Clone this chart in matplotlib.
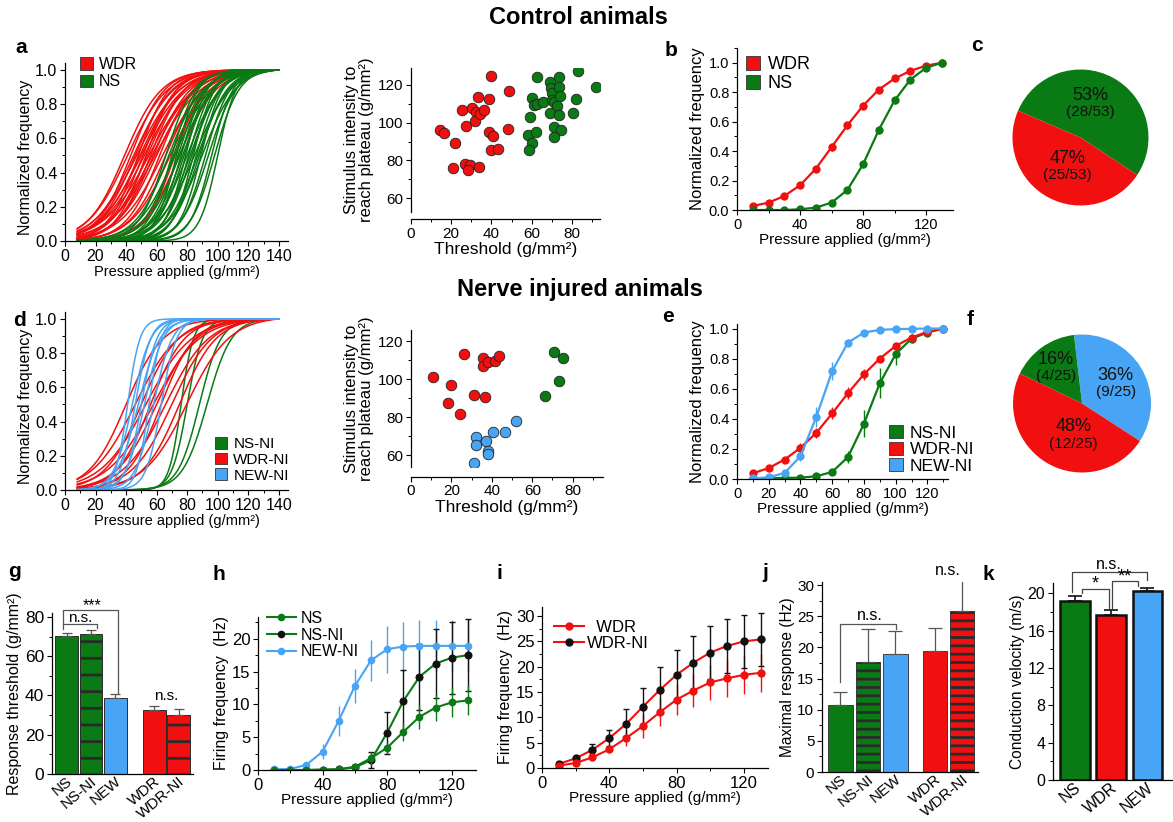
import numpy as np
import matplotlib
matplotlib.use("Agg")
import matplotlib.pyplot as plt
from matplotlib.patches import Patch
from matplotlib.lines import Line2D
from matplotlib.ticker import MultipleLocator
from matplotlib.transforms import ScaledTranslation

plt.rcParams['font.family'] = ['Liberation Sans', 'DejaVu Sans']
plt.rcParams['hatch.linewidth'] = 2.0
plt.rcParams['axes.linewidth'] = 0.9

GREEN = '#0a7a14'
RED = '#f20f0f'
BLUE = '#48a4f4'
TXT = '#111111'

# ---------------- data ----------------
# Boltzmann fits of individual neurons (half-activation pressure, slope)
ctrl_wdr_x50 = [39, 41, 43, 45, 46, 47, 48, 49, 50, 51, 52, 53, 54, 55, 56, 57, 58, 59, 60, 62, 64, 66, 69, 72, 75]
ctrl_wdr_k = [12, 13, 11, 13, 12, 14, 10, 13, 14, 11, 14, 10, 12, 15, 11, 14, 12, 15, 13, 11, 14, 12, 13, 10, 12]
ctrl_ns_x50 = [66, 68, 70, 71, 72, 73, 74, 75, 76, 77, 78, 79, 80, 81, 82, 83, 84, 85, 86, 87, 88, 89, 90, 92, 94, 96, 98, 100]
ctrl_ns_k = [9, 11, 8, 10, 12, 7, 9, 11, 8, 10, 9, 7, 11, 8, 10, 9, 7, 12, 8, 10, 9, 7, 11, 8, 9, 7, 8, 6]

ni_ns_x50 = [76, 80, 88, 93]
ni_ns_k = [4, 5, 7, 8]
ni_wdr_x50 = [40, 46, 50, 53, 56, 58, 60, 63, 66, 70, 75, 80]
ni_wdr_k = [12, 14, 12, 15, 11, 15, 13, 11, 14, 13, 12, 14]
ni_new_x50 = [41, 44, 46, 48, 50, 52, 55, 58, 63]
ni_new_k = [4, 6, 5, 7, 5, 6, 4, 6, 5]

# threshold vs. plateau, control
ctrl_wdr_thr = [14.4, 16.6, 21.9, 21.1, 25.2, 27.4, 26.9, 29.4, 28.2, 30.5, 32.2, 31.9, 33.5, 34.3, 33.7,
                36.3, 38.7, 38.8, 40.0, 40.7, 39.8, 43.5, 48.5, 48.3]
ctrl_wdr_plat = [96.2, 94.4, 89.1, 75.9, 106.8, 98.3, 78.2, 77.6, 74.7, 107.6, 105.9, 101.1, 113.5, 104.5, 76.8,
                 106.8, 112.4, 94.9, 124.9, 93.0, 85.6, 86.1, 117.0, 96.5]
ctrl_ns_thr = [62.6, 60.4, 61.2, 62.9, 65.6, 59.3, 58.4, 62.2, 60.1, 58.8, 69.2, 69.5, 70.0, 70.3, 71.2, 73.4,
               73.7, 74.2, 72.5, 69.2, 73.4, 71.1, 74.7, 71.1, 83.0, 81.9, 80.8, 92.1]
ctrl_ns_plat = [124.4, 112.9, 109.4, 109.9, 111.2, 102.9, 93.5, 94.9, 89.1, 85.6, 121.8, 118.2, 115.6, 112.1,
                111.2, 124.1, 119.1, 114.2, 108.9, 105.0, 104.1, 97.6, 96.2, 92.3, 127.4, 112.6, 105.0, 119.1]

# threshold vs. plateau, nerve injured
ni_wdr_thr = [10.8, 19.8, 18.1, 24.4, 26.1, 31.0, 35.5, 35.5, 38.2, 36.8, 41.8, 43.5]
ni_wdr_plat = [101.1, 97.1, 87.4, 81.7, 113.5, 91.8, 111.2, 107.1, 109.1, 90.9, 109.4, 112.1]
ni_ns_thr = [66.4, 70.9, 75.0, 73.4]
ni_ns_plat = [91.4, 114.2, 111.2, 99.2]
ni_new_thr = [31.0, 32.2, 32.2, 37.3, 38.2, 38.0, 40.5, 46.3, 51.8]
ni_new_plat = [55.9, 69.7, 65.3, 67.4, 62.3, 60.9, 72.4, 72.4, 78.0]

pressure = [10, 20, 30, 40, 50, 60, 70, 80, 90, 100, 110, 120, 130]

# b: population normalized frequency, control
b_wdr = [0.027, 0.05, 0.095, 0.168, 0.28, 0.427, 0.575, 0.709, 0.818, 0.893, 0.945, 0.98, 1.0]
b_wdr_err = [0.01, 0.01, 0.012, 0.015, 0.02, 0.025, 0.025, 0.022, 0.02, 0.015, 0.01, 0.01, 0.0]
b_ns = [0.0, 0.0, 0.0, 0.005, 0.016, 0.05, 0.136, 0.311, 0.545, 0.745, 0.886, 0.966, 1.0]
b_ns_err = [0.0, 0.0, 0.0, 0.003, 0.005, 0.01, 0.015, 0.025, 0.028, 0.025, 0.015, 0.01, 0.0]

# e: population normalized frequency, nerve injured
e_ns = [0.004, 0.004, 0.007, 0.009, 0.018, 0.047, 0.147, 0.367, 0.636, 0.829, 0.933, 0.973, 1.0]
e_ns_err = [0.004, 0.004, 0.005, 0.006, 0.008, 0.012, 0.04, 0.09, 0.1, 0.07, 0.03, 0.01, 0.0]
e_wdr = [0.038, 0.073, 0.129, 0.207, 0.307, 0.436, 0.571, 0.696, 0.8, 0.884, 0.94, 0.978, 1.0]
e_wdr_err = [0.01, 0.012, 0.02, 0.03, 0.035, 0.04, 0.04, 0.035, 0.025, 0.02, 0.015, 0.01, 0.0]
e_new = [0.004, 0.011, 0.04, 0.151, 0.413, 0.718, 0.907, 0.973, 0.991, 0.996, 0.998, 1.0, 1.0]
e_new_err = [0.003, 0.008, 0.012, 0.03, 0.065, 0.06, 0.02, 0.01, 0.006, 0.004, 0.003, 0.002, 0.0]

# pie charts
c_counts = [28, 25]
f_counts = [9, 4, 12]

# g: response thresholds
bar5_labels = ['NS', 'NS-NI', 'NEW', 'WDR', 'WDR-NI']
g_thr = [70.3, 71.3, 38.6, 32.6, 30.1]
g_err = [1.6, 1.9, 2.4, 2.1, 3.0]

# h: firing frequency, nociceptive-specific
h_ns = [0.0, 0.0, 0.0, 0.05, 0.1, 0.5, 1.8, 3.4, 5.8, 8.1, 9.5, 10.3, 10.6]
h_ns_err = [0.0, 0.0, 0.0, 0.05, 0.1, 0.3, 1.0, 0.9, 1.4, 1.8, 2.1, 2.3, 2.3]
h_nsni = [0.0, 0.0, 0.0, 0.05, 0.1, 0.4, 1.5, 5.7, 10.5, 14.2, 16.2, 17.1, 17.5]
h_nsni_err = [0.0, 0.0, 0.0, 0.05, 0.1, 0.3, 1.2, 3.2, 4.8, 5.0, 5.3, 5.5, 5.5]
h_newni = [0.1, 0.15, 0.8, 2.8, 7.5, 12.8, 16.7, 18.4, 18.8, 18.9, 18.9, 18.9, 18.9]
h_newni_err = [0.05, 0.1, 0.3, 1.1, 2.3, 2.6, 3.1, 3.6, 3.8, 3.9, 3.9, 3.9, 3.9]

# i: firing frequency, wide dynamic range
i_wdr = [0.46, 1.0, 2.1, 3.7, 5.9, 8.3, 11.0, 13.5, 15.3, 16.9, 17.7, 18.4, 18.8]
i_wdr_err = [0.3, 0.4, 0.6, 0.8, 1.6, 2.3, 2.8, 3.1, 3.3, 3.4, 3.6, 3.7, 3.8]
i_wdrni = [0.8, 1.9, 3.6, 5.9, 8.7, 12.1, 15.4, 18.4, 20.8, 22.8, 24.1, 25.0, 25.4]
i_wdrni_err = [0.3, 0.5, 1.2, 1.6, 2.9, 3.8, 4.5, 5.0, 5.3, 5.2, 5.3, 5.3, 5.3]

# j: maximal response
j_max = [10.7, 17.6, 18.9, 19.4, 25.9]
j_err = [2.1, 5.3, 3.8, 3.7, 5.2]

# k: conduction velocity
k_labels = ['NS', 'WDR', 'NEW']
k_cv = [19.2, 17.7, 20.2]
k_err = [0.55, 0.5, 0.4]

# ---------------- figure ----------------
W, H = 1173.0, 822.0
fig = plt.figure(figsize=(W / 100, H / 100), dpi=100)


def add_ax(l, t, r, b):
    return fig.add_axes([l / W, 1 - b / H, (r - l) / W, (b - t) / H])


def fxy(x, y):
    return (x / W, 1 - y / H)


def style(ax, fs=9):
    for s in ('top', 'right'):
        ax.spines[s].set_visible(False)
    ax.tick_params(which='major', direction='out', length=3.5, width=0.8, labelsize=fs, pad=2)
    ax.tick_params(which='minor', direction='out', length=2, width=0.7)


def boltz(x, x50, k):
    b = 1.0 / (1.0 + np.exp((x50 - x) / k))
    return b / (1.0 / (1.0 + np.exp((x50 - 140.0) / k)))


def sq_legend(ax, labels, colors, x, y, fs, spacing=0.25):
    handles = [Patch(facecolor=c, edgecolor='#333333', linewidth=0.6) for c in colors]
    ax.legend(handles, labels, loc='upper left', bbox_to_anchor=fxy(x, y),
              bbox_transform=fig.transFigure, frameon=False, fontsize=fs,
              handlelength=0.8, handleheight=0.8, handletextpad=0.4,
              labelspacing=spacing, borderpad=0, borderaxespad=0)


P_LABEL = 'Pressure applied (g/mm²)'


def curve_panel(ax, groups):
    xs = np.linspace(8, 140, 240)
    for x50s, ks, col in groups:
        for x50, k in zip(x50s, ks):
            ax.plot(xs, boltz(xs, x50, k), color=col, lw=1.1)
    ax.set_xlim(0, 146)
    ax.set_ylim(0, 1.04)
    ax.xaxis.set_major_locator(MultipleLocator(20))
    ax.xaxis.set_minor_locator(MultipleLocator(10))
    ax.yaxis.set_major_locator(MultipleLocator(0.2))
    ax.yaxis.set_minor_locator(MultipleLocator(0.1))
    ax.set_xlabel(P_LABEL, fontsize=10.5, labelpad=1)
    ax.set_ylabel('Normalized frequency', fontsize=11.5)
    ax.yaxis.set_label_coords(-0.145, 0.47)
    style(ax, 11.5)


def scatter_panel(ax, groups, ylo, yhi, xhi, off):
    for xs, ys, col in groups:
        ax.scatter(xs, ys, s=58, color=col, edgecolor='#222222', linewidth=0.6, zorder=3)
    ax.set_xlim(0, xhi)
    ax.set_ylim(ylo, yhi)
    ax.spines['bottom'].set_position(('outward', off))
    ax.xaxis.set_major_locator(MultipleLocator(20))
    ax.xaxis.set_minor_locator(MultipleLocator(10))
    ax.yaxis.set_major_locator(MultipleLocator(20))
    ax.yaxis.set_minor_locator(MultipleLocator(10))
    ax.set_xlabel('Threshold (g/mm²)', fontsize=12.5, labelpad=1)
    ax.set_ylabel('Stimulus intensity to\nreach plateau (g/mm²)', fontsize=12, labelpad=3, linespacing=0.95)
    style(ax, 11)


def mean_panel(ax, series, xhi, yhi):
    for ys, err, col in series:
        ax.errorbar(pressure, ys, yerr=err, color=col, marker='o', ms=6, lw=1.6,
                    capsize=2, elinewidth=1, capthick=1, markeredgewidth=0)
    ax.set_xlim(0, xhi)
    ax.set_ylim(0, yhi)
    ax.yaxis.set_major_locator(MultipleLocator(0.2))
    ax.yaxis.set_minor_locator(MultipleLocator(0.1))
    ax.set_xlabel(P_LABEL, fontsize=11, labelpad=1)
    ax.set_ylabel('Normalized frequency', fontsize=12, labelpad=3)
    style(ax, 10.5)


def pie_panel(ax, counts, colors, start, labels):
    ax.pie(counts, colors=colors, startangle=start, counterclock=True,
           wedgeprops=dict(linewidth=0))
    ax.set_xlim(-1, 1)
    ax.set_ylim(-1, 1)
    ax.set_aspect('equal')
    for (x, y), pct, frac in labels:
        ax.text(x, y, pct, ha='center', va='center', fontsize=13, color=TXT)
        ax.text(x, y - 0.24, frac, ha='center', va='center', fontsize=11, color=TXT)


# titles
fig.text(*fxy(578, 18), 'Control animals', ha='center', va='center', fontsize=17, fontweight='bold')
fig.text(*fxy(580, 289), 'Nerve injured animals', ha='center', va='center', fontsize=17, fontweight='bold')

# panel letters
letters = {'a': (15, 53), 'b': (665, 56), 'c': (971, 51), 'd': (13, 326), 'e': (662, 322), 'f': (967, 325),
           'g': (8, 577), 'h': (213, 580), 'i': (497, 579), 'j': (762, 578), 'k': (983, 580)}
for s, (x, y) in letters.items():
    fig.text(*fxy(x, y), s, ha='left', va='baseline', fontsize=15, fontweight='bold')

# a
ax = add_ax(65, 63, 288, 241)
curve_panel(ax, [(ctrl_wdr_x50, ctrl_wdr_k, RED), (ctrl_ns_x50, ctrl_ns_k, GREEN)])
sq_legend(ax, ['WDR', 'NS'], [RED, GREEN], 80, 57, 11.5, 0.15)

# control scatter
ax = add_ax(411, 68, 600, 212)
scatter_panel(ax, [(ctrl_wdr_thr, ctrl_wdr_plat, RED), (ctrl_ns_thr, ctrl_ns_plat, GREEN)], 52.7, 129, 94, 5)

# b
ax = add_ax(737, 48, 953, 210)
mean_panel(ax, [(b_wdr, b_wdr_err, RED), (b_ns, b_ns_err, GREEN)], 137, 1.1)
ax.xaxis.set_major_locator(MultipleLocator(40))
ax.xaxis.set_minor_locator(MultipleLocator(20))
sq_legend(ax, ['WDR', 'NS'], [RED, GREEN], 746, 56, 13, 0.1)

# c
ax = add_ax(1012.5, 69.5, 1148.5, 205.5)
pie_panel(ax, c_counts, [GREEN, RED], -33.4,
          [((0.15, 0.62), '53%', '(28/53)'), ((-0.19, -0.31), '47%', '(25/53)')])

# d
ax = add_ax(65, 312, 288, 490)
curve_panel(ax, [(ni_ns_x50, ni_ns_k, GREEN), (ni_wdr_x50, ni_wdr_k, RED), (ni_new_x50, ni_new_k, BLUE)])
sq_legend(ax, ['NS-NI', 'WDR-NI', 'NEW-NI'], [GREEN, RED, BLUE], 215, 437, 11, 0.1)

# nerve-injured scatter
ax = add_ax(411, 330, 603, 467)
scatter_panel(ax, [(ni_wdr_thr, ni_wdr_plat, RED), (ni_ns_thr, ni_ns_plat, GREEN),
                   (ni_new_thr, ni_new_plat, BLUE)], 53.8, 126, 95, 7)

# e
ax = add_ax(737, 324, 948, 479)
mean_panel(ax, [(e_ns, e_ns_err, GREEN), (e_wdr, e_wdr_err, RED), (e_new, e_new_err, BLUE)], 133, 1.03)
ax.xaxis.set_major_locator(MultipleLocator(20))
ax.xaxis.set_minor_locator(MultipleLocator(10))
sq_legend(ax, ['NS-NI', 'WDR-NI', 'NEW-NI'], [GREEN, RED, BLUE], 889, 425, 12.5, 0.05)

# f
ax = add_ax(1013, 334.5, 1151, 472.5)
pie_panel(ax, f_counts, [BLUE, GREEN, RED], -32.9,
          [((0.49, 0.41), '36%', '(9/25)'), ((-0.38, 0.64), '16%', '(4/25)'),
           ((-0.12, -0.34), '48%', '(12/25)')])

bar_colors = [GREEN, GREEN, BLUE, RED, RED]


def bar_ticks(ax, labels, fs):
    ax.set_xticklabels(labels, rotation=40, ha='right', va='center', rotation_mode='anchor', fontsize=fs)
    ax.tick_params(axis='x', length=0, pad=4)
    shift = ScaledTranslation(4 / 100, 0, fig.dpi_scale_trans)
    for lab in ax.get_xticklabels():
        lab.set_transform(lab.get_transform() + shift)


def bracket(ax, xs, ys, col='#555555'):
    ax.plot(xs, ys, color=col, lw=0.9, clip_on=False)


# g
g_pos = [0, 1, 2, 3.6, 4.6]
ax = add_ax(52, 613, 193, 774)
style(ax, 12.5)
for p, v, c, hz in zip(g_pos, g_thr, bar_colors, ['', '-', '', '', '-']):
    ax.bar(p, v, width=0.94, color=c, edgecolor='#2a2a2a', linewidth=0.7, hatch=hz)
ax.errorbar(g_pos, g_thr, yerr=[np.zeros(5), g_err], fmt='none', ecolor='#555555',
            capsize=3.5, elinewidth=0.9, capthick=0.9)
ax.set_xlim(-0.6, 5.19)
ax.set_ylim(0, 82)
ax.set_xticks(g_pos)
bar_ticks(ax, bar5_labels, 11)
ax.yaxis.set_major_locator(MultipleLocator(20))
ax.yaxis.set_minor_locator(MultipleLocator(10))
ax.set_ylabel('Response threshold (g/mm²)', fontsize=11.5, labelpad=2)
bracket(ax, [-0.15, -0.15, 1.25, 1.25], [73.7, 76.6, 76.6, 74.6])
bracket(ax, [-0.15, -0.15, 2.12, 2.12], [76.6, 83.4, 83.4, 41.0])
ax.text(0.56, 79.2, 'n.s.', ha='center', va='center', fontsize=11)
ax.text(1.04, 86.0, '***', ha='center', va='center', fontsize=11.5)
ax.text(4.1, 39.7, 'n.s.', ha='center', va='center', fontsize=11)


def rate_axes(ax, xhi, yhi, ylabel, fs_lab):
    ax.set_xlim(0, xhi)
    ax.set_ylim(0, yhi)
    ax.xaxis.set_major_locator(MultipleLocator(40))
    ax.xaxis.set_minor_locator(MultipleLocator(20))
    ax.yaxis.set_major_locator(MultipleLocator(5))
    ax.yaxis.set_minor_locator(MultipleLocator(2.5))
    ax.set_xlabel(P_LABEL, fontsize=11, labelpad=0)
    ax.set_ylabel(ylabel, fontsize=fs_lab, labelpad=2)
    style(ax, 12)


# h
ax = add_ax(258, 617, 476, 770)
kw = dict(ms=5.5, lw=1.5, capsize=2, elinewidth=1, capthick=1, markeredgewidth=0)
ax.errorbar(pressure, h_newni, yerr=h_newni_err, color=BLUE, marker='o', **kw)
ax.errorbar(pressure, h_nsni, yerr=h_nsni_err, fmt='none', ecolor='#111111',
            capsize=2, elinewidth=1, capthick=1)
ax.plot(pressure, h_nsni, color=GREEN, lw=1.5)
ax.plot(pressure, h_nsni, 'o', color='#111111', ms=5.8, markeredgewidth=0)
ax.errorbar(pressure, h_ns, yerr=h_ns_err, color=GREEN, marker='o', **kw)
rate_axes(ax, 135, 23.3, 'Firing frequency  (Hz)', 11.5)
h_handles = [Line2D([], [], color=GREEN, marker='o', ms=5.5, lw=1.5, markeredgewidth=0),
             Line2D([], [], color=GREEN, marker='o', ms=5.5, lw=1.5, markerfacecolor='#111111',
                    markeredgewidth=0),
             Line2D([], [], color=BLUE, marker='o', ms=5.5, lw=1.5, markeredgewidth=0)]
ax.legend(h_handles, ['NS', 'NS-NI', 'NEW-NI'], loc='upper left', bbox_to_anchor=fxy(267, 611),
          bbox_transform=fig.transFigure, frameon=False, fontsize=11.5, handlelength=1.8,
          handletextpad=0.3, labelspacing=0.1, borderpad=0, borderaxespad=0)

# i
ax = add_ax(542, 607, 768, 768)
ax.errorbar(pressure, i_wdr, yerr=i_wdr_err, color=RED, marker='o', ms=6, lw=1.5, capsize=2,
            elinewidth=1, capthick=1, markeredgewidth=0)
ax.errorbar(pressure, i_wdrni, yerr=i_wdrni_err, fmt='none', ecolor='#111111', capsize=2,
            elinewidth=1, capthick=1)
ax.plot(pressure, i_wdrni, color=RED, lw=1.5)
ax.plot(pressure, i_wdrni, 'o', color='#111111', ms=6, markeredgewidth=0)
rate_axes(ax, 134.4, 31.8, 'Firing frequency  (Hz)', 11.5)
i_handles = [Line2D([], [], color=RED, marker='o', ms=6, lw=1.5, markeredgewidth=0),
             Line2D([], [], color=RED, marker='o', ms=6, lw=1.5, markerfacecolor='#111111',
                    markeredgewidth=0)]
ax.legend(i_handles, ['  WDR', 'WDR-NI'], loc='upper left', bbox_to_anchor=fxy(554, 620),
          bbox_transform=fig.transFigure, frameon=False, fontsize=12, handlelength=1.8,
          handletextpad=0.2, labelspacing=0.05, borderpad=0, borderaxespad=0)

# j
j_pos = [0, 1, 2, 3.43, 4.43]
ax = add_ax(822, 582, 978, 772)
style(ax, 11)
for p, v, c, hz in zip(j_pos, j_max, bar_colors, ['', '--', '', '', '--']):
    ax.bar(p, v, width=0.88, color=c, edgecolor='#2a2a2a', linewidth=0.6, hatch=hz)
ax.errorbar(j_pos, j_max, yerr=[np.zeros(5), j_err], fmt='none', ecolor='#555555',
            capsize=5, elinewidth=0.9, capthick=0.9)
ax.set_xlim(-0.67, 5.0)
ax.set_ylim(0, 30.5)
ax.set_xticks(j_pos)
bar_ticks(ax, bar5_labels, 11)
ax.yaxis.set_major_locator(MultipleLocator(5))
ax.yaxis.set_minor_locator(MultipleLocator(2.5))
ax.set_ylabel('Maximal response (Hz)', fontsize=11.2, labelpad=2)
bracket(ax, [-0.03, -0.03, 2.01, 2.01], [14.5, 23.7, 23.7, 22.9])
ax.text(1.06, 25.1, 'n.s.', ha='center', va='center', fontsize=11.5)
ax.text(3.92, 32.3, 'n.s.', ha='center', va='center', fontsize=11.5)

# k
k_pos = [0, 1, 2]
ax = add_ax(1053, 583, 1172, 780)
style(ax, 11.5)
ax.bar(k_pos, k_cv, width=0.81, color=[GREEN, RED, BLUE], edgecolor='#111111', linewidth=1.8)
ax.errorbar(k_pos, k_cv, yerr=[np.zeros(3), k_err], fmt='none', ecolor='#111111',
            capsize=5, elinewidth=1.2, capthick=1.2)
ax.set_xlim(-0.61, 2.69)
ax.set_ylim(0, 21.1)
ax.set_xticks(k_pos)
bar_ticks(ax, k_labels, 11.5)
ax.yaxis.set_major_locator(MultipleLocator(4))
ax.yaxis.set_minor_locator(MultipleLocator(2))
ax.set_ylabel('Conduction velocity (m/s)', fontsize=11.2, labelpad=2)
bracket(ax, [-0.08, -0.08, 2.01, 2.01], [20.1, 22.3, 22.3, 21.4], '#444444')
bracket(ax, [0.19, 0.19, 0.93, 0.93], [20.0, 20.5, 20.5, 18.4], '#444444')
bracket(ax, [1.02, 1.02, 1.76, 1.76], [18.4, 21.36, 21.36, 20.8], '#444444')
ax.text(0.93, 23.1, 'n.s.', ha='center', va='center', fontsize=11.5)
ax.text(0.56, 20.95, '*', ha='center', va='center', fontsize=13)
ax.text(1.39, 21.75, '**', ha='center', va='center', fontsize=13)

fig.savefig('out.png', dpi=100)
